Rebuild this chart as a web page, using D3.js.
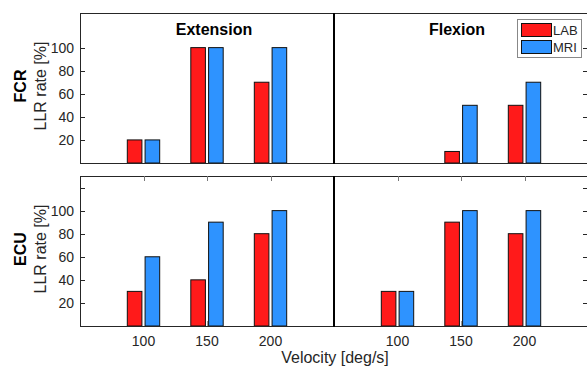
<!DOCTYPE html>
<html lang="en">
<head>
<meta charset="UTF-8">
<title>LLR rate by velocity</title>
<style>
    body { margin: 0; background: #fff; }
    svg { display: block; font-family: "Liberation Sans", Arial, sans-serif; }
</style>
</head>
<body>
<svg id="chart" width="587" height="369"></svg>
<script src="https://d3js.org/d3.v7.min.js"></script>
<script>
// x slots: 1-3 extension, 4 is the divider slot, 5-7 flexion
var positions = [1, 2, 3, 4, 5, 6, 7];
var tickLabels = ["100", "150", "200", "", "100", "150", "200"];
var directions = ["Extension", "Flexion"];
var muscles = ["FCR", "ECU"];
var seriesNames = ["LAB", "MRI"];

var fcrLab = [20, 100, 70, 0, 0, 10, 50];
var fcrMri = [20, 100, 100, 0, 0, 50, 70];
var ecuLab = [30, 40, 80, 0, 30, 90, 80];
var ecuMri = [60, 90, 100, 0, 30, 100, 100];

var topYTicks = [20, 40, 60, 80, 100];
var bottomYTicks = [20, 40, 60, 80, 100, 120];
var yTickLabels = ["20", "40", "60", "80", "100", ""];

var colors = { LAB: "#ff1a1a", MRI: "#2e93ff" };
var axisColor = "#262626";

var svg = d3.select("#chart");

var x = d3.scaleLinear().domain([0, 8]).range([80, 588]);
var barW = 0.23, barOff = 0.14;

var panels = [
    { name: muscles[0], top: 13, bottom: 163, lab: fcrLab, mri: fcrMri, yt: topYTicks, xticks: false, titles: true },
    { name: muscles[1], top: 176, bottom: 326, lab: ecuLab, mri: ecuMri, yt: bottomYTicks, xticks: true, titles: false }
];

panels.forEach(function(p) {
    var y = d3.scaleLinear().domain([0, 130]).range([p.bottom, p.top]);
    var g = svg.append("g");

    // bars
    [["LAB", p.lab, -barOff], ["MRI", p.mri, barOff]].forEach(function(s) {
        g.selectAll(".bar-" + s[0])
         .data(positions.map(function(pos, i) { return { pos: pos, v: s[1][i] }; })
                        .filter(function(d) { return d.v > 0; }))
         .enter().append("rect")
         .attr("x", function(d) { return x(d.pos + s[2] - barW / 2); })
         .attr("y", function(d) { return y(d.v); })
         .attr("width", x(barW) - x(0))
         .attr("height", function(d) { return y(0) - y(d.v); })
         .style("fill", colors[s[0]])
         .style("stroke", "#111")
         .style("stroke-width", 1);
    });

    // box lines
    g.append("line").attr("x1", 80).attr("x2", 588).attr("y1", p.top + 0.5).attr("y2", p.top + 0.5)
     .style("stroke", axisColor);
    g.append("line").attr("x1", 80).attr("x2", 588).attr("y1", p.bottom + 0.5).attr("y2", p.bottom + 0.5)
     .style("stroke", axisColor);
    g.append("line").attr("x1", 80.5).attr("x2", 80.5).attr("y1", p.top).attr("y2", p.bottom + 1)
     .style("stroke", axisColor);

    // y ticks, inward on both sides
    p.yt.forEach(function(t, i) {
        var yy = Math.round(y(t)) + 0.5;
        g.append("line").attr("x1", 80).attr("x2", 85).attr("y1", yy).attr("y2", yy).style("stroke", axisColor);
        g.append("line").attr("x1", 583).attr("x2", 588).attr("y1", yy).attr("y2", yy).style("stroke", axisColor);
        g.append("text")
         .attr("x", 74).attr("y", y(t)).attr("dy", "0.35em")
         .style("text-anchor", "end").style("font-size", "14px").style("fill", axisColor)
         .text(yTickLabels[i]);
    });

    // x ticks (bottom panel only)
    if (p.xticks) {
        positions.forEach(function(pos, i) {
            var xx = Math.round(x(pos)) + 0.5;
            g.append("line").attr("x1", xx).attr("x2", xx).attr("y1", p.top).attr("y2", p.top + 5)
             .style("stroke", "#777");
            g.append("line").attr("x1", xx).attr("x2", xx).attr("y1", p.bottom).attr("y2", p.bottom - 5)
             .style("stroke", "#999");
            g.append("text")
             .attr("x", x(pos)).attr("y", 346)
             .style("text-anchor", "middle").style("font-size", "14px").style("fill", axisColor)
             .text(tickLabels[i]);
        });
    }

    // divider between extension and flexion
    g.append("line").attr("x1", x(4)).attr("x2", x(4)).attr("y1", p.top).attr("y2", p.bottom + 1)
     .style("stroke", "#000").style("stroke-width", 2);

    // row labels
    var cy = (p.top + p.bottom) / 2 - 2;
    g.append("text")
     .attr("transform", "translate(25.5," + cy + ") rotate(-90)")
     .style("text-anchor", "middle").style("font-size", "16px").style("font-weight", "bold")
     .style("fill", "#000")
     .text(p.name);
    g.append("text")
     .attr("transform", "translate(45.5," + cy + ") rotate(-90)")
     .style("text-anchor", "middle").style("font-size", "16px").style("fill", axisColor)
     .text("LLR rate [%]");

    if (p.titles) {
        g.append("text").attr("x", 214).attr("y", 34.5)
         .style("text-anchor", "middle").style("font-size", "16px").style("font-weight", "bold")
         .text(directions[0]);
        g.append("text").attr("x", 457).attr("y", 34.5)
         .style("text-anchor", "middle").style("font-size", "16px").style("font-weight", "bold")
         .text(directions[1]);
    }
});

// x axis label
svg.append("text").attr("x", 335).attr("y", 363)
   .style("text-anchor", "middle").style("font-size", "16px").style("fill", axisColor)
   .text("Velocity [deg/s]");

// legend
var legend = svg.append("g");
legend.append("rect").attr("x", 517.5).attr("y", 19.5).attr("width", 64).attr("height", 38)
      .style("fill", "#fff").style("stroke", "#888");
seriesNames.forEach(function(s, i) {
    legend.append("rect").attr("x", 521.5).attr("y", 23.5 + i * 17).attr("width", 30).attr("height", 13)
          .style("fill", colors[s]).style("stroke", "#111");
    legend.append("text").attr("x", 553).attr("y", 30 + i * 17).attr("dy", "0.35em")
          .style("font-size", "13px").style("fill", axisColor)
          .text(s);
});
</script>
</body>
</html>
